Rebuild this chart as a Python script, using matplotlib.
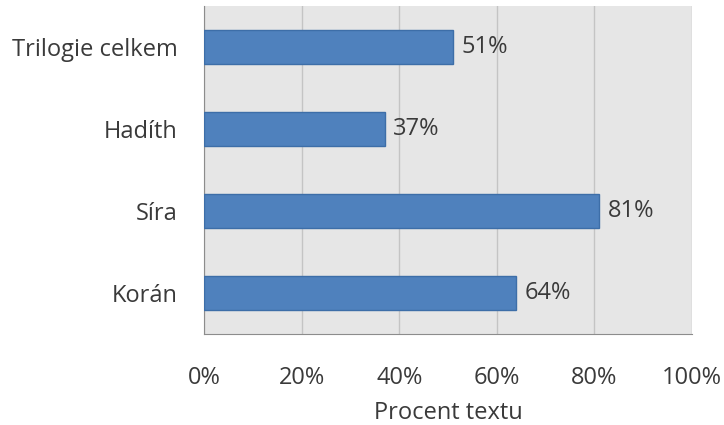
import matplotlib.pyplot as plt
from matplotlib.ticker import FuncFormatter

categories = ['Korán', 'Síra', 'Hadíth', 'Trilogie celkem']
values = [64, 81, 37, 51]
xticks = [0, 20, 40, 60, 80, 100]

plt.rcParams['font.family'] = ['Open Sans', 'DejaVu Sans']
fs = 17
tc = '#3a3a3a'

fig = plt.figure(figsize=(7.24, 4.25), dpi=100)
ax = fig.add_axes([204/724, 1-334/425, 488/724, 328/425])
ax.set_facecolor('#e6e6e6')

ax.barh(range(len(categories)), values, height=0.41, color='#4f81bd',
        edgecolor='#3d6ea8', linewidth=1, zorder=3)
for i, v in enumerate(values):
    ax.text(v + 1.8, i, f'{v}%', va='center', ha='left', fontsize=fs,
            color=tc, zorder=4)

ax.set_xlim(0, 100)
ax.set_ylim(-0.5, len(categories) - 0.5)
ax.set_xticks(xticks)
ax.xaxis.set_major_formatter(FuncFormatter(lambda x, p: f'{x:.0f}%'))
ax.set_yticks(range(len(categories)))
ax.set_yticklabels(categories)
ax.tick_params(axis='both', length=0, labelsize=fs, labelcolor=tc)
ax.tick_params(axis='x', pad=23)
ax.tick_params(axis='y', pad=19)
ax.grid(axis='x', color='#c4c4c4', linewidth=1, zorder=0)
ax.set_axisbelow(True)

for s in ['top', 'right']:
    ax.spines[s].set_visible(False)
ax.spines['left'].set_color('#8c8c8c')
ax.spines['bottom'].set_color('#8c8c8c')

ax.set_xlabel('Procent textu', fontsize=fs, color=tc, labelpad=8)

fig.savefig('out.png', dpi=100)
